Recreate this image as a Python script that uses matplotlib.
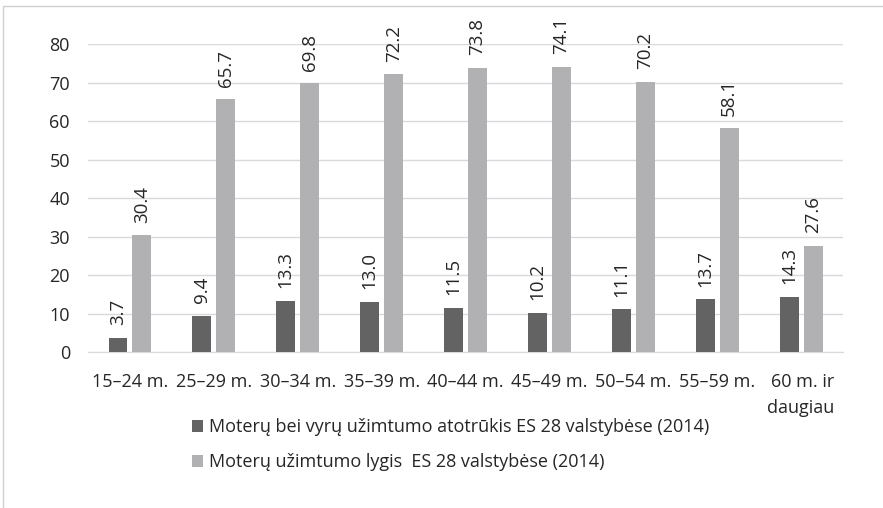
import matplotlib.pyplot as plt
import numpy as np
from matplotlib.patches import Rectangle

categories = ["15–24 m.", "25–29 m.", "30–34 m.", "35–39 m.", "40–44 m.",
              "45–49 m.", "50–54 m.", "55–59 m.", "60 m. ir\ndaugiau"]
gap = [3.7, 9.4, 13.3, 13.0, 11.5, 10.2, 11.1, 13.7, 14.3]
rate = [30.4, 65.7, 69.8, 72.2, 73.8, 74.1, 70.2, 58.1, 27.6]
labels = ["Moterų bei vyrų užimtumo atotrūkis ES 28 valstybėse (2014)",
          "Moterų užimtumo lygis  ES 28 valstybėse (2014)"]

plt.rcParams['font.family'] = ['Open Sans', 'DejaVu Sans']

fig = plt.figure(figsize=(8.83, 5.08), dpi=100)
ax = fig.add_axes([0.0997, 0.307, 0.855, 0.6063])

# chart frame
fig.patches.append(Rectangle((3 / 883, -0.05), 1.0, 1 - 6 / 508 + 0.05,
                             transform=fig.transFigure, fill=False,
                             edgecolor="#d0d0d0", linewidth=1))

x = np.arange(len(categories))
w = 0.226
b1 = ax.bar(x - 0.143, gap, w, color="#636363", label=labels[0], zorder=3)
b2 = ax.bar(x + 0.143, rate, w, color="#b1b1b3", label=labels[1], zorder=3)

for bars, vals in ((b1, gap), (b2, rate)):
    for r, v in zip(bars, vals):
        ax.annotate(f"{v:.1f}", (r.get_x() + r.get_width() / 2, v),
                    xytext=(0, 9), textcoords="offset points",
                    rotation=90, ha="center", va="bottom",
                    fontsize=13.5, color="#262626")

ax.set_ylim(0, 80)
ax.set_xlim(-0.5, len(categories) - 0.5)
ax.set_yticks(range(0, 81, 10))
ax.yaxis.grid(True, color="#d9d9d9", linewidth=1, zorder=0)
ax.set_axisbelow(True)
for s in ["top", "right", "left"]:
    ax.spines[s].set_visible(False)
ax.spines["bottom"].set_color("#d9d9d9")
ax.tick_params(axis="both", length=0, labelsize=13, colors="#262626")
ax.tick_params(axis="x", pad=15)
ax.tick_params(axis="y", pad=13)
ax.set_xticks(x)
ax.set_xticklabels(categories, linespacing=1.6)
for t in ax.get_xticklabels():
    if "\n" in t.get_text():
        t.set_ha("center")
        t.set_multialignment("right")

fig.legend(handles=[b1, b2], loc="center", bbox_to_anchor=(0.51, 0.125),
           ncol=1, frameon=False, fontsize=13, handlelength=0.65,
           handleheight=0.65, handletextpad=0.3, labelspacing=0.95,
           labelcolor="#262626")

fig.savefig("out.png", dpi=100)
